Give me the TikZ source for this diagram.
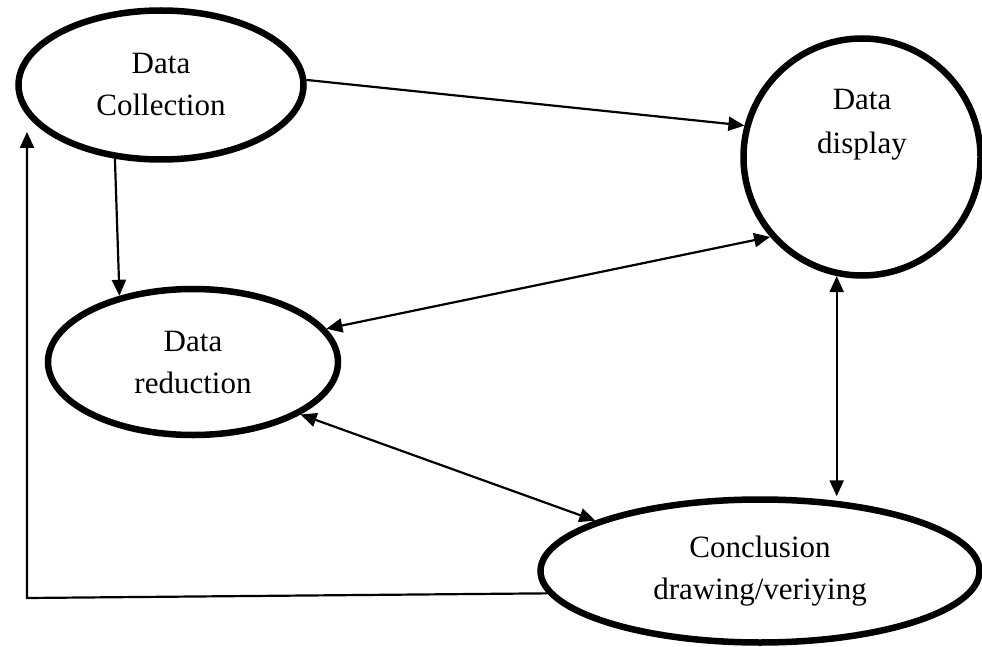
\documentclass[tikz,border=0pt]{standalone}
\usepackage{fontspec}
\setmainfont{Liberation Serif}
\usetikzlibrary{shapes.geometric,arrows.meta}

\begin{document}
\begin{tikzpicture}[x=1pt,y=-1pt,
    stage/.style={ellipse, draw, line width=6.5pt, inner sep=0pt, align=center,
        font=\fontsize{31}{42}\selectfont},
    flow/.style={line width=2.2pt, -{Triangle[length=16pt,width=14pt]}},
    both/.style={line width=2.2pt,
        {Triangle[length=16pt,width=14pt]}-{Triangle[length=16pt,width=14pt]}}]
\useasboundingbox (0,0) rectangle (982,647);

% the four stages
\node (coll)  [stage, minimum width=285pt, minimum height=149pt] at (161,85) {Data\\Collection};
\node (disp)  [stage, circle, minimum size=237pt,
    label={[align=center, yshift=32pt, font=\fontsize{31}{44}\selectfont]center:Data\\display}] at (862,157) {};
\node (red)   [stage, minimum width=290pt, minimum height=146pt] at (193,362) {Data\\reduction};
\node (concl) [stage, minimum width=439pt, minimum height=143pt] at (760,571) {Conclusion\\drawing/veriying};

% one way arrows
\draw[flow] (coll.2)   -- (disp.165);
\draw[flow] (coll.238) -- (red.138);

% both ways
\draw[both] (red.14)   -- (disp.221);
\draw[both] (red.334)  -- (concl.163);
\draw[both] (disp.258) -- (disp.258 |- concl.north);

% back to the start
\coordinate (corner) at (27,598);
\draw[flow] (concl.186) -- (corner) -- (corner |- coll.202);

\end{tikzpicture}
\end{document}
